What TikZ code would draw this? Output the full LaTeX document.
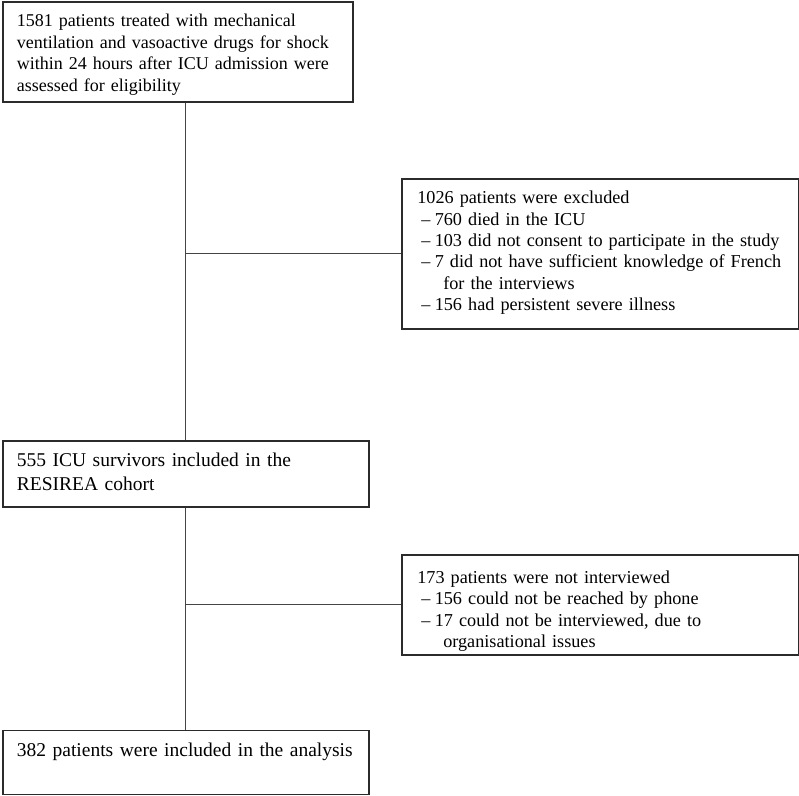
\documentclass[tikz,border=0pt]{standalone}
\usepackage{fontspec}
\setmainfont{Liberation Serif}
\usetikzlibrary{positioning}
\definecolor{boxgray}{HTML}{2B2B2B}
\definecolor{linkgray}{HTML}{444444}
\newcommand{\reason}[1]{\hspace*{4pt}\makebox[13.5pt][l]{--}\mbox{#1}}
\newcommand{\reasoncont}{\hspace*{26pt}}

\begin{document}
\begin{tikzpicture}[
  x=1pt, y=-1pt,
  node distance=20pt and 48pt,
  stage/.style={
    draw=boxgray,
    line width=1.8pt,
    align=left,
    inner xsep=14pt,
    inner ysep=0pt,
    text height=25pt,
    font=\fontsize{18}{21.5}\selectfont
  },
  bigstage/.style={
    stage,
    text height=26pt,
    font=\fontsize{19.5}{23.3}\selectfont
  },
  note/.style={
    draw=boxgray,
    line width=1.8pt,
    align=left,
    inner xsep=15.5pt,
    inner ysep=0pt,
    text width=366pt,
    text height=25pt,
    font=\fontsize{18.2}{21.3}\selectfont
  },
  link/.style={linkgray, line width=1pt}
]

\useasboundingbox (0,0) rectangle (799,795);

\node[stage, text width=322pt, text depth=75pt, anchor=north west] (screened) at (2,1)
  {1581 patients treated with mechanical\\
   ventilation and vasoactive drugs for shock\\
   within 24 hours after ICU admission were\\
   assessed for eligibility};
\node[bigstage, text width=338pt, text depth=40pt, below=337pt of screened.south west, anchor=north west] (cohort)
  {555 ICU survivors included in the\\
   RESIREA cohort};
\node[bigstage, text width=338pt, text depth=38pt, below=222pt of cohort.south west, anchor=north west] (analysed)
  {382 patients were included in the analysis};

\coordinate[above=186pt of cohort.north] (split1);
\coordinate[below=97pt of cohort.south] (split2);

\node[note, text depth=125pt, right=215pt of split1] (excluded)
  {1026 patients were excluded\\
   \reason{760 died in the ICU}\\
   \reason{103 did not consent to participate in the study}\\
   \reason{7 did not have sufficient knowledge of French}\\
   \reasoncont for the interviews\\
   \reason{156 had persistent severe illness}};
\node[note, text height=29pt, text depth=71pt, right=215pt of split2] (notseen)
  {173 patients were not interviewed\\
   \reason{156 could not be reached by phone}\\
   \reason{17 could not be interviewed, due to}\\
   \reasoncont organisational issues};

\draw[link] (screened.south -| cohort.north) -- (cohort.north);
\draw[link] (cohort.south) -- (analysed.north);
\draw[link] (split1) -- (excluded.west);
\draw[link] (split2) -- (notseen.west);

\end{tikzpicture}
\end{document}
